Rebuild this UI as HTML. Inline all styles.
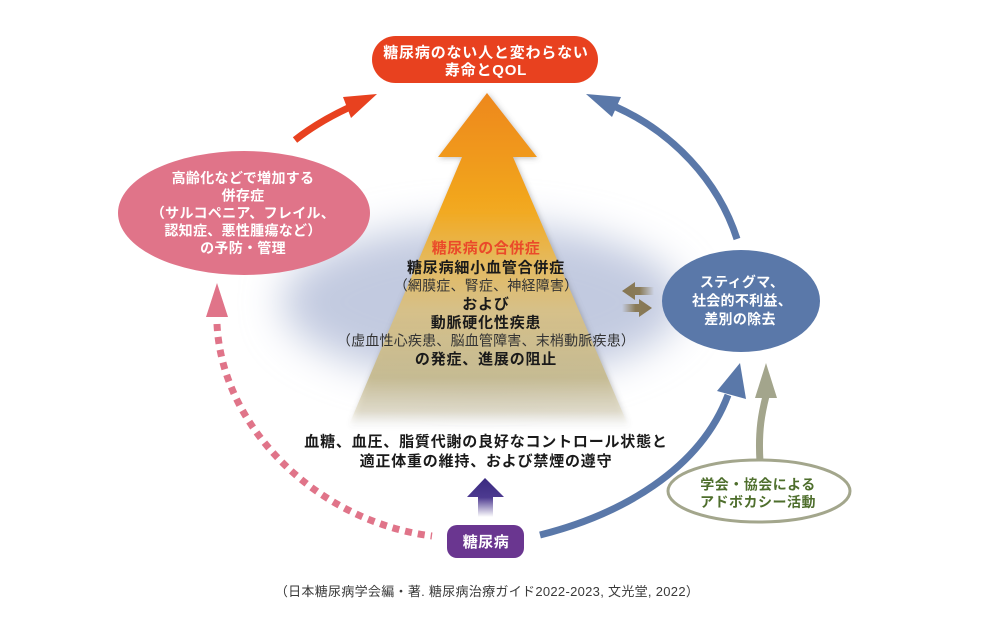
<!DOCTYPE html>
<html><head><meta charset="utf-8">
<style>
html,body{margin:0;padding:0;background:#fff;}
svg{display:block;}
text{font-family:"Liberation Sans","Noto Sans CJK JP",sans-serif;}
</style></head>
<body>
<svg width="1000" height="632" viewBox="0 0 1000 632" xmlns="http://www.w3.org/2000/svg">
<defs>
  <filter id="blur" x="-50%" y="-50%" width="200%" height="200%"><feGaussianBlur stdDeviation="20"/></filter>
  <filter id="shadow" x="-30%" y="-30%" width="160%" height="160%">
    <feDropShadow dx="1" dy="1" stdDeviation="3" flood-color="#6b6b6b" flood-opacity="0.45"/>
  </filter>
  <linearGradient id="cone" x1="0" y1="93" x2="0" y2="428" gradientUnits="userSpaceOnUse">
    <stop offset="0" stop-color="#ee881f"/>
    <stop offset="0.2" stop-color="#f09a1c"/>
    <stop offset="0.35" stop-color="#f2a920"/>
    <stop offset="0.5" stop-color="#e5b95c"/>
    <stop offset="0.65" stop-color="#d6c089"/>
    <stop offset="0.85" stop-color="#c6bb91" stop-opacity="0.95"/>
    <stop offset="0.95" stop-color="#ddd6bc" stop-opacity="0.6"/>
    <stop offset="1" stop-color="#ffffff" stop-opacity="0"/>
  </linearGradient>
  <linearGradient id="purp" x1="0" y1="478" x2="0" y2="517" gradientUnits="userSpaceOnUse">
    <stop offset="0" stop-color="#3a2a80"/>
    <stop offset="0.5" stop-color="#4d3a90"/>
    <stop offset="1" stop-color="#ffffff"/>
  </linearGradient>
  <linearGradient id="arrL" x1="622" y1="0" x2="654" y2="0" gradientUnits="userSpaceOnUse">
    <stop offset="0" stop-color="#867653"/>
    <stop offset="0.55" stop-color="#8a7b58"/>
    <stop offset="1" stop-color="#8a7b58" stop-opacity="0"/>
  </linearGradient>
  <linearGradient id="arrR" x1="652" y1="0" x2="622" y2="0" gradientUnits="userSpaceOnUse">
    <stop offset="0" stop-color="#867653"/>
    <stop offset="0.55" stop-color="#8a7b58"/>
    <stop offset="1" stop-color="#8a7b58" stop-opacity="0"/>
  </linearGradient>
</defs>

<!-- blue glow -->
<ellipse cx="482" cy="302" rx="200" ry="78" fill="#c2cae0" filter="url(#blur)"/>

<!-- big cone arrow -->
<polygon points="487,93 537,157 513,157 628,425 349,425 462,157 438,157" fill="url(#cone)" filter="url(#shadow)"/>

<!-- top pill -->
<rect x="372" y="36" width="226" height="47" rx="23.5" fill="#e8411f"/>
<text x="486" y="57.5" font-size="15" font-weight="bold" fill="#fff" text-anchor="middle" letter-spacing="0.8">糖尿病のない人と変わらない</text>
<text x="486" y="75" font-size="15" font-weight="bold" fill="#fff" text-anchor="middle" letter-spacing="0.8">寿命とQOL</text>

<!-- red arrow -->
<path d="M295,140 Q318,122 348,108" fill="none" stroke="#e8411f" stroke-width="7"/>
<polygon points="377,94 343,97 351,118" fill="#e8411f"/>

<!-- top right blue arrow -->
<path d="M737,239 C718,180 672,132 616,107" fill="none" stroke="#5a78a9" stroke-width="7"/>
<polygon points="586,94 621,97 612,117" fill="#5a78a9"/>

<!-- pink ellipse -->
<ellipse cx="244" cy="213" rx="126" ry="62" fill="#e07489"/>
<g font-size="14" font-weight="bold" fill="#fff" text-anchor="middle" letter-spacing="0.3">
<text x="243" y="183">高齢化などで増加する</text>
<text x="243" y="200.5">併存症</text>
<text x="243" y="218">（サルコペニア、フレイル、</text>
<text x="243" y="235.5">認知症、悪性腫瘍など）</text>
<text x="243" y="253">の予防・管理</text>
</g>

<!-- pink dotted arrow -->
<polygon points="217,283 206,317 228,317" fill="#e07489"/>
<path d="M217,324 C222,430 320,522 432,536" fill="none" stroke="#e07489" stroke-width="7" stroke-dasharray="7 6"/>

<!-- center text -->
<text x="486" y="253" font-size="15" font-weight="bold" fill="#ea4a2a" text-anchor="middle" letter-spacing="0.5">糖尿病の合併症</text>
<text x="486" y="272.5" font-size="15" font-weight="bold" fill="#1a1a1a" text-anchor="middle" letter-spacing="0.8">糖尿病細小血管合併症</text>
<text x="486" y="290.5" font-size="14" fill="#333" text-anchor="middle" letter-spacing="0.2">（網膜症、腎症、神経障害）</text>
<text x="486" y="309" font-size="15" font-weight="bold" fill="#1a1a1a" text-anchor="middle" letter-spacing="0.8">および</text>
<text x="486" y="327.5" font-size="15" font-weight="bold" fill="#1a1a1a" text-anchor="middle" letter-spacing="0.8">動脈硬化性疾患</text>
<text x="486" y="345.5" font-size="14" fill="#333" text-anchor="middle" letter-spacing="0.2">（虚血性心疾患、脳血管障害、末梢動脈疾患）</text>
<text x="486" y="364" font-size="15" font-weight="bold" fill="#1a1a1a" text-anchor="middle" letter-spacing="0.8">の発症、進展の阻止</text>

<!-- double arrows -->
<polygon points="622,291 635,282 635,287 654,287 654,295 635,295 635,300" fill="url(#arrL)"/>
<polygon points="652,308 639,299 639,304 622,304 622,312 639,312 639,317" fill="url(#arrR)"/>

<!-- stigma ellipse -->
<ellipse cx="741" cy="301" rx="79" ry="51" fill="#5a78a9"/>
<g font-size="14" font-weight="bold" fill="#fff" text-anchor="middle" letter-spacing="0.3">
<text x="742" y="287">スティグマ、</text>
<text x="742" y="305.5">社会的不利益、</text>
<text x="740" y="324">差別の除去</text>
</g>

<!-- bottom text -->
<text x="486" y="446.5" font-size="15" font-weight="bold" fill="#1a1a1a" text-anchor="middle" letter-spacing="0.8">血糖、血圧、脂質代謝の良好なコントロール状態と</text>
<text x="486" y="466" font-size="15" font-weight="bold" fill="#1a1a1a" text-anchor="middle" letter-spacing="0.8">適正体重の維持、および禁煙の遵守</text>

<!-- purple arrow -->
<polygon points="485,478 504,497 493,497 493,517 478,517 478,497 467,497" fill="url(#purp)"/>

<!-- purple box -->
<rect x="447" y="525" width="77" height="33" rx="10" fill="#6a3690"/>
<text x="486" y="547" font-size="15" font-weight="bold" fill="#fff" text-anchor="middle" letter-spacing="0.5">糖尿病</text>

<!-- lower blue arrow -->
<path d="M540,535 C620,515 700,470 728,395" fill="none" stroke="#5a78a9" stroke-width="7"/>
<polygon points="740,363 746,399 717,391" fill="#5a78a9"/>

<!-- olive arrow -->
<path d="M760,462 C758,430 762,412 766,396" fill="none" stroke="#a3a58c" stroke-width="7"/>
<polygon points="766,363 777,398 755,398" fill="#a3a58c"/>

<!-- olive ellipse -->
<ellipse cx="759" cy="491" rx="91" ry="31" fill="#fff" stroke="#a3a68c" stroke-width="3"/>
<g font-size="14" font-weight="bold" fill="#4e6e2c" text-anchor="middle" letter-spacing="0.5">
<text x="758" y="489.5">学会・協会による</text>
<text x="758" y="507">アドボカシー活動</text>
</g>

<!-- citation -->
<text x="487" y="596" font-size="13" fill="#3a3a3a" text-anchor="middle" letter-spacing="0.3">（日本糖尿病学会編・著. 糖尿病治療ガイド2022-2023, 文光堂, 2022）</text>
</svg>
</body></html>
